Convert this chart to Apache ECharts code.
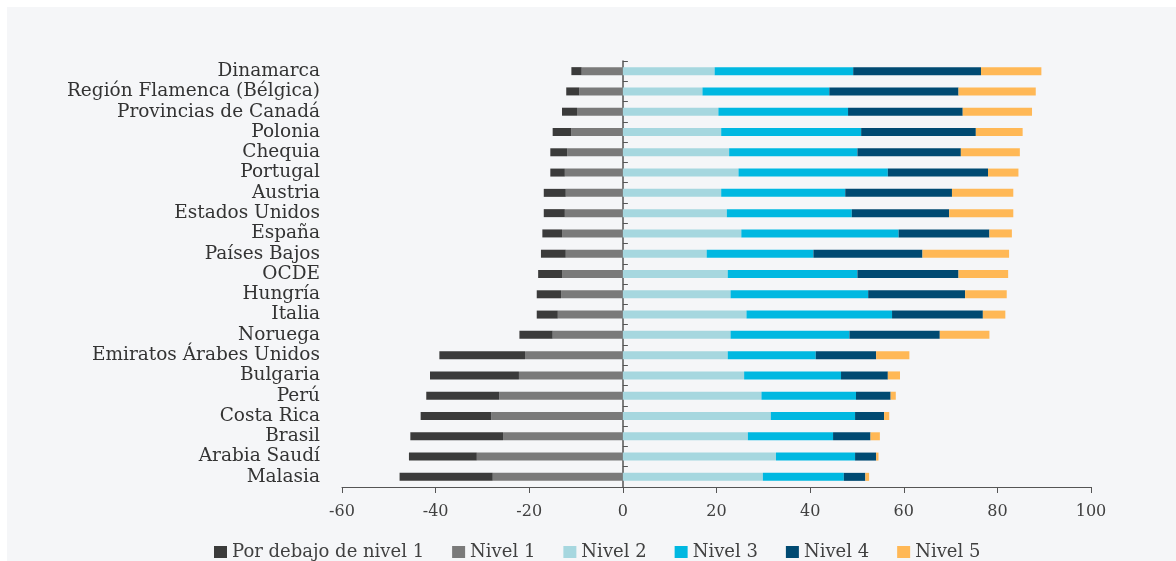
<!DOCTYPE html>
<html>
<head>
<meta charset="utf-8">
<script src="https://cdn.jsdelivr.net/npm/echarts@6/dist/echarts.min.js"></script>
<style>
html,body{margin:0;padding:0;background:#ffffff;width:1176px;height:561px;overflow:hidden;}
#chart{position:absolute;left:7px;top:7px;width:1169px;height:554px;background:#f5f6f8;}
</style>
</head>
<body>
<div id="chart"></div>
<script>
const categories = ["Dinamarca","Región Flamenca (Bélgica)","Provincias de Canadá","Polonia","Chequia","Portugal","Austria","Estados Unidos","España","Países Bajos","OCDE","Hungría","Italia","Noruega","Emiratos Árabes Unidos","Bulgaria","Perú","Costa Rica","Brasil","Arabia Saudí","Malasia"];
const debajoNivel1 = [-2.2,-2.8,-3.2,-4.0,-3.6,-3.1,-4.7,-4.5,-4.2,-5.3,-5.1,-5.2,-4.5,-7.1,-18.3,-19.0,-15.6,-15.1,-19.8,-14.5,-19.9];
const nivel1 = [-8.8,-9.3,-9.8,-11.0,-11.9,-12.4,-12.2,-12.4,-13.0,-12.2,-13.0,-13.2,-13.9,-15.0,-20.9,-22.2,-26.4,-28.1,-25.6,-31.2,-27.8];
const nivel2 = [19.6,17.0,20.4,21.0,22.7,24.7,21.0,22.2,25.3,17.9,22.4,23.0,26.4,23.0,22.4,25.9,29.6,31.6,26.7,32.7,29.9];
const nivel3 = [29.6,27.1,27.7,29.9,27.4,31.9,26.5,26.7,33.6,22.8,27.7,29.4,31.1,25.4,18.8,20.7,20.2,18.0,18.2,16.9,17.3];
const nivel4 = [27.3,27.6,24.5,24.5,22.1,21.4,22.8,20.8,19.4,23.3,21.6,20.7,19.4,19.3,12.9,10.0,7.4,6.2,8.0,4.5,4.6];
const nivel5 = [12.9,16.5,14.8,10.0,12.6,6.5,13.1,13.7,4.8,18.5,10.6,8.9,4.8,10.6,7.1,2.6,1.1,1.1,2.0,0.5,0.8];
const xTicks = {min:-60, max:100, interval:20};

const FONT = "DejaVu Serif";
const names = ["Por debajo de nivel 1","Nivel 1","Nivel 2","Nivel 3","Nivel 4","Nivel 5"];
const colors = {"Por debajo de nivel 1":"#3b3b3b","Nivel 1":"#7a7a7a","Nivel 2":"#a6d7df","Nivel 3":"#00b8e1","Nivel 4":"#004a72","Nivel 5":"#ffb856"};

function mk(name, data){
  return {name:name, type:'bar', stack:'total', yAxisIndex:0, barWidth:8, data:data,
    itemStyle:{color:colors[name]}, emphasis:{disabled:true}};
}

const chart = echarts.init(document.getElementById('chart'), null, {renderer:'canvas'});
chart.setOption({
  animation:false,
  backgroundColor:'transparent',
  grid:{left:335, right:85, top:54, bottom:74, containLabel:false},
  legend:{
    data:names, left:202, top:531, itemWidth:13, itemHeight:12, itemGap:28,
    icon:'rect',
    textStyle:{fontFamily:FONT, fontSize:18, color:'#404040'}
  },
  xAxis:{
    type:'value', min:xTicks.min, max:xTicks.max, interval:xTicks.interval,
    splitLine:{show:false},
    axisLine:{show:true, lineStyle:{color:'#555555', width:1}},
    axisTick:{show:true, length:6, lineStyle:{color:'#555555'}},
    axisLabel:{fontFamily:FONT, fontSize:16, color:'#404040', margin:17}
  },
  yAxis:[
    {type:'category', data:categories, inverse:true, position:'left',
     axisLine:{show:false, onZero:false}, axisTick:{show:false},
     axisLabel:{fontFamily:FONT, fontSize:18.5, color:'#333333', margin:22, interval:0}},
    {type:'category', data:categories, inverse:true, position:'left',
     axisLine:{show:true, onZero:true, lineStyle:{color:'#555555', width:1.5}},
     axisTick:{show:true, inside:true, length:5, interval:0, lineStyle:{color:'#555555'}},
     axisLabel:{show:false}}
  ],
  series:[
    mk("Nivel 1", nivel1),
    mk("Por debajo de nivel 1", debajoNivel1),
    mk("Nivel 2", nivel2),
    mk("Nivel 3", nivel3),
    mk("Nivel 4", nivel4),
    mk("Nivel 5", nivel5)
  ]
});
</script>
</body>
</html>
